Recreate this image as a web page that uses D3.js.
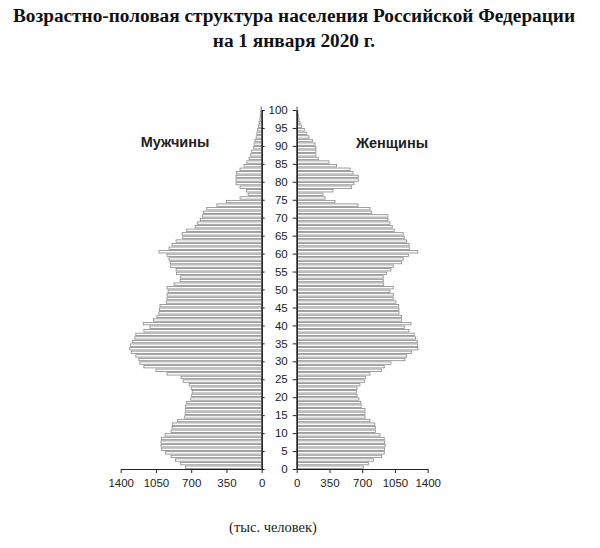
<!DOCTYPE html>
<html>
<head>
    <meta charset="utf-8">
    <script src="https://d3js.org/d3.v7.min.js"></script>
    <style>
        body {
            margin: 0;
            background: #ffffff;
        }

        text.title {
            font-family: "Liberation Serif", "Times New Roman", serif;
            font-weight: bold;
            font-size: 19.3px;
            fill: #111111;
        }

        text.sexLabel {
            font-family: "Liberation Sans", Arial, sans-serif;
            font-weight: bold;
            font-size: 14.5px;
            fill: #222222;
        }

        text.caption {
            font-family: "Liberation Serif", "Times New Roman", serif;
            font-size: 14.5px;
            fill: #222222;
        }

        .tick text {
            font-family: "Liberation Sans", Arial, sans-serif;
            font-size: 11.5px;
            fill: #222222;
        }

        .axis path, .axis line {
            stroke: #222222;
        }

        rect.bar {
            fill: #ffffff;
            stroke: #858585;
            stroke-width: 0.8;
        }
    </style>
</head>

<body>
    <div id="chart"></div>
    <script>
        // ages 0..100, thousands of people
        const ages = d3.range(0, 101);

        const men = [
            758, 805, 855, 900, 955, 995, 1000, 1000, 995, 960,
            900, 890, 885, 835, 765, 760, 755, 755, 745, 705,
            695, 690, 700, 720, 780, 800, 940, 1050, 1170, 1210,
            1220, 1250, 1295, 1310, 1305, 1285, 1260, 1250, 1170, 1110,
            1175, 1075, 1040, 1020, 1015, 1010, 945, 940, 940, 930,
            940, 870, 810, 805, 845, 850, 905, 910, 920, 940,
            1020, 920, 890, 850, 785, 790, 745, 660, 640, 610,
            590, 580, 545, 445, 350, 215, 135, 150, 215, 255,
            255, 255, 250, 215, 175, 148, 125, 110, 100, 80,
            75, 66, 55, 48, 40, 32, 25, 18, 14, 10,
            7
        ];

        const women = [
            712, 765, 820, 908, 936, 940, 945, 940, 935, 890,
            840, 840, 835, 783, 730, 730, 730, 690, 685, 665,
            645, 640, 645, 676, 725, 735, 783, 905, 935, 1007,
            1157, 1175, 1228, 1296, 1293, 1290, 1271, 1257, 1200, 1150,
            1221, 1121, 1121, 1093, 1093, 1090, 1060, 1032, 1032, 997,
            1032, 930, 925, 925, 961, 1007, 1032, 1121, 1139, 1193,
            1293, 1205, 1200, 1175, 1150, 1139, 1043, 1021, 997, 975,
            975, 801, 783, 655, 409, 302, 281, 388, 587, 612,
            658, 658, 602, 570, 427, 345, 231, 205, 205, 205,
            196, 167, 131, 107, 81, 53, 35, 25, 18, 12,
            8
        ];

        const valueTicks = [0, 350, 700, 1050, 1400];
        const ageTicks = d3.range(0, 101, 5);

        const width = 600;
        const height = 548;

        const svg = d3.select("#chart").append("svg")
            .attr("width", width)
            .attr("height", height);

        // title
        svg.append("text")
            .attr("class", "title")
            .attr("x", 294)
            .attr("y", 22)
            .style("text-anchor", "middle")
            .text("Возрастно-половая структура населения Российской Федерации");

        svg.append("text")
            .attr("class", "title")
            .attr("x", 294)
            .attr("y", 47)
            .style("text-anchor", "middle")
            .text("на 1 января 2020 г.");

        // scales
        const y = d3.scaleLinear()
            .domain([0, 100])
            .range([469, 110]);

        const xLeft = d3.scaleLinear()
            .domain([1400, 0])
            .range([120.7, 261.7]);

        const xRight = d3.scaleLinear()
            .domain([0, 1400])
            .range([296.7, 427.7]);

        const pad = 0.6;

        // men bars
        svg.selectAll("rect.men")
            .data(ages)
            .enter()
            .append("rect")
            .attr("class", "bar men")
            .attr("x", d => xLeft(men[d]))
            .attr("y", d => y(d + 1) + pad)
            .attr("width", d => xLeft(0) - xLeft(men[d]))
            .attr("height", d => y(d) - y(d + 1) - 2 * pad);

        // women bars
        svg.selectAll("rect.women")
            .data(ages)
            .enter()
            .append("rect")
            .attr("class", "bar women")
            .attr("x", xRight(0))
            .attr("y", d => y(d + 1) + pad)
            .attr("width", d => xRight(women[d]) - xRight(0))
            .attr("height", d => y(d) - y(d + 1) - 2 * pad);

        // left vertical axis (no labels)
        svg.append("g")
            .attr("class", "axis")
            .attr("transform", `translate(${xLeft(0)},0)`)
            .call(d3.axisRight(y).tickValues(ageTicks).tickSize(3).tickSizeOuter(0).tickFormat(""))
            .select("path.domain").style("stroke-width", 1.5);

        // right vertical axis with the age labels
        svg.append("g")
            .attr("class", "axis")
            .attr("transform", `translate(${xRight(0)},0)`)
            .call(d3.axisLeft(y).tickValues(ageTicks).tickSize(4).tickSizeOuter(0).tickPadding(5))
            .select("path.domain").style("stroke-width", 1.5);

        // bottom axes
        svg.append("g")
            .attr("class", "axis")
            .attr("transform", `translate(0,${y(0)})`)
            .call(d3.axisBottom(xLeft).tickValues(valueTicks).tickSize(4).tickSizeOuter(0).tickPadding(6).tickFormat(d3.format("d")));

        svg.append("g")
            .attr("class", "axis")
            .attr("transform", `translate(0,${y(0)})`)
            .call(d3.axisBottom(xRight).tickValues(valueTicks).tickSize(4).tickSizeOuter(0).tickPadding(6).tickFormat(d3.format("d")));

        // sex labels
        svg.append("text")
            .attr("class", "sexLabel")
            .attr("x", 175)
            .attr("y", 147)
            .style("text-anchor", "middle")
            .text("Мужчины");

        svg.append("text")
            .attr("class", "sexLabel")
            .attr("x", 392)
            .attr("y", 148)
            .style("text-anchor", "middle")
            .text("Женщины");

        svg.append("text")
            .attr("class", "caption")
            .attr("x", 273)
            .attr("y", 532)
            .style("text-anchor", "middle")
            .text("(тыс. человек)");
    </script>
</body>
</html>
